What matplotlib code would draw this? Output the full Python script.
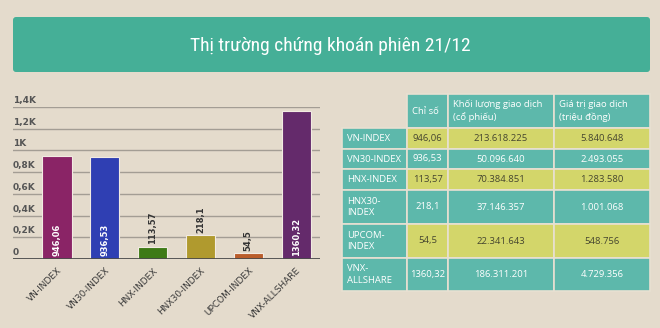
import matplotlib
matplotlib.use('Agg')
import matplotlib.pyplot as plt
from matplotlib.patches import FancyBboxPatch, Rectangle
from matplotlib import font_manager

# data
indices = ['VN-INDEX', 'VN30-INDEX', 'HNX-INDEX', 'HNX30-INDEX', 'UPCOM-INDEX', 'VNX-ALLSHARE']
values = [946.06, 936.53, 113.57, 218.1, 54.5, 1360.32]
value_labels = ['946,06', '936,53', '113,57', '218,1', '54,5', '1360,32']
bar_colors = ['#8a2466', '#2f3fb3', '#3e7a16', '#b09a2e', '#b95d2b', '#642a6b']
y_ticks = [0, 200, 400, 600, 800, 1000, 1200, 1400]
y_tick_labels = ['0', '0,2K', '0,4K', '0,6K', '0,8K', '1K', '1,2K', '1,4K']

row_names = ['VN-INDEX', 'VN30-INDEX', 'HNX-INDEX', 'HNX30-\nINDEX', 'UPCOM-\nINDEX', 'VNX-\nALLSHARE']
col_headers = ['Chỉ số', 'Khối lượng giao dịch\n(cổ phiếu)', 'Giá trị giao dịch\n(triệu đồng)']
volumes = ['213.618.225', '50.096.640', '70.384.851', '37.146.357', '22.341.643', '186.311.201']
trade_values = ['5.840.648', '2.493.055', '1.283.580', '1.001.068', '548.756', '4.729.356']

title = 'Thị trường chứng khoán phiên 21/12'

BG = '#e4dbcc'
TEAL = '#5db8ab'
YELLOW = '#d3d66a'
BANNER = '#45af97'
W, H = 660, 328

# pick a narrow face for the title if one is around
names = {f.name for f in font_manager.fontManager.ttflist}
narrow = [n for n in ['Liberation Sans Narrow', 'Roboto Condensed', 'Open Sans Condensed',
                      'DejaVu Sans Condensed'] if n in names]
title_family = narrow + ['DejaVu Sans']
title_size = 14 if narrow else 12.5

fig = plt.figure(figsize=(W / 100, H / 100), dpi=100, facecolor=BG)

# full-figure overlay in pixel coords for banner and table
over = fig.add_axes([0, 0, 1, 1])
over.set_xlim(0, W)
over.set_ylim(H, 0)
over.axis('off')

over.add_patch(FancyBboxPatch((15, 19), 633, 51, boxstyle='round,pad=2,rounding_size=3',
                              fc=BANNER, ec='none'))
over.text(330, 46, title, color='white', fontsize=title_size, ha='center', va='center',
          family=title_family, fontstretch='condensed')

# ---- bar chart
ax = fig.add_axes([13 / W, (H - 259) / H, 307 / W, 152 / H])
ax.set_facecolor('none')
x = list(range(len(values)))
ax.bar(x, values, width=0.61, color=bar_colors, edgecolor='#f2ebe2', linewidth=0.8, zorder=3)
ax.set_xlim(-0.92, 5.5)
ax.set_ylim(0, 1400)
for v, lab in zip(y_ticks, y_tick_labels):
    if v > 0:
        ax.axhline(v, color='#a39d94', lw=1, zorder=1)
    ax.text(0.0, v + 18, lab, transform=ax.get_yaxis_transform(), fontsize=6.5,
            fontweight='bold', color='#555555', ha='left', va='bottom')
ax.axhline(0, color='#4a4a4a', lw=2, zorder=4)
for s in ax.spines.values():
    s.set_visible(False)
ax.set_yticks([])
ax.set_xticks(x)
ax.set_xticklabels(indices, rotation=45, ha='right', rotation_mode='anchor',
                   fontsize=6.5, color='#3a3a3a')
ax.tick_params(axis='x', length=0, pad=5)
for xi, v, lab in zip(x, values, value_labels):
    if v > 500:
        ax.text(xi, 25, lab, rotation=90, ha='center', va='bottom', fontsize=6,
                fontweight='bold', color='white', zorder=5)
    else:
        ax.text(xi, v + 20, lab, rotation=90, ha='center', va='bottom', fontsize=6,
                fontweight='bold', color='#333333', zorder=5)

# ---- table
col_x = [342, 407, 448, 554, 650]
row_y = [94, 128, 149, 169, 190, 224, 258, 291]
tfont = ['Open Sans', 'DejaVu Sans']
edge = '#e8e0d2'
fs = 6.8

# header
for j, hdr in enumerate(col_headers):
    x0, x1 = col_x[j + 1], col_x[j + 2]
    over.add_patch(Rectangle((x0, row_y[0]), x1 - x0, row_y[1] - row_y[0], fc=TEAL, ec=edge, lw=1.2))
    over.text(x0 + 5, (row_y[0] + row_y[1]) / 2, hdr, color='white', fontsize=fs,
              ha='left', va='center', family=tfont, linespacing=1.4)

for i, name in enumerate(row_names):
    y0, y1 = row_y[i + 1], row_y[i + 2]
    yc = (y0 + y1) / 2
    over.add_patch(Rectangle((col_x[0], y0), col_x[1] - col_x[0], y1 - y0, fc=TEAL, ec=edge, lw=1.2))
    over.text(col_x[0] + 5, yc, name, color='white', fontsize=fs, ha='left', va='center',
              family=tfont, linespacing=1.4)
    fill = YELLOW if i % 2 == 0 else TEAL
    tc = '#45452f' if i % 2 == 0 else 'white'
    cells = [value_labels[i], volumes[i], trade_values[i]]
    for j, c in enumerate(cells):
        x0, x1 = col_x[j + 1], col_x[j + 2]
        over.add_patch(Rectangle((x0, y0), x1 - x0, y1 - y0, fc=fill, ec=edge, lw=1.2))
        over.text((x0 + x1) / 2, yc, c, color=tc, fontsize=fs, ha='center', va='center',
                  family=tfont)

fig.savefig('out.png', dpi=100, facecolor=BG)
